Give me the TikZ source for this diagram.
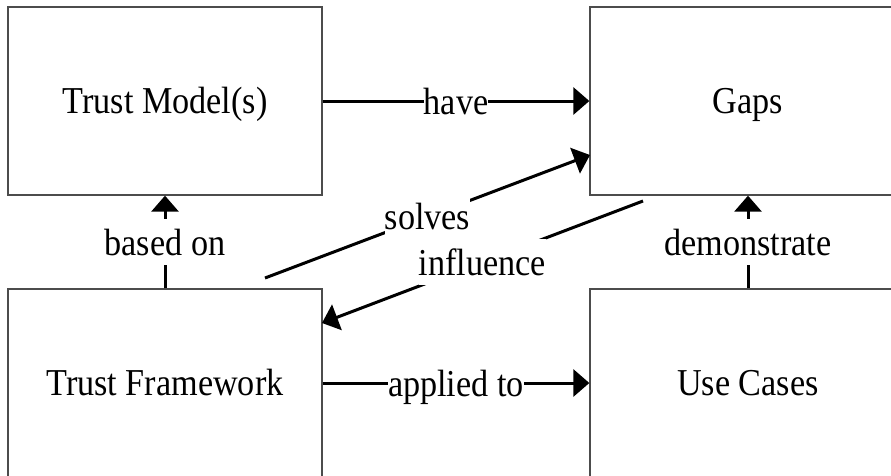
\documentclass[tikz,border=0pt]{standalone}
\usepackage{fontspec}
\setmainfont{Liberation Serif}
\newfontfamily\condserif[FakeStretch=0.9]{Liberation Serif}
\usetikzlibrary{arrows.meta}
\tikzset{
  box/.style={draw=black!70, line width=1.3pt, minimum width=314pt, minimum height=188pt, inner sep=0pt, text height=25pt, text depth=0pt, font=\condserif\fontsize{38}{44}\selectfont},
  arr/.style={line width=3pt, -{Triangle[length=16pt,width=27pt]}},
  lbl/.style={fill=white, inner sep=0pt, text height=36pt, text depth=10pt, font=\condserif\fontsize{38}{44}\selectfont}
}
\begin{document}
\begin{tikzpicture}[x=1pt,y=-1pt]
\useasboundingbox (0,0) rectangle (891,475);
\clip (0,0) rectangle (891,475);
\node[box] (tm) at (165,101) {Trust Model(s)};
\node[box, minimum width=316pt] (gaps) at (748,101) {Gaps};
\node[box] (tf) at (165,383) {Trust Framework};
\node[box, minimum width=316pt] (uc) at (748,383) {Use Cases};
\coordinate (sA) at (265,278);
\coordinate (sB) at (590,155);
\coordinate (iA) at (643,201);
\coordinate (iB) at (322,323);
\draw[arr] (tm.east) -- node[lbl]{have} (gaps.west);
\draw[arr] (tf.east) -- node[lbl]{applied to} (uc.west);
\draw[arr] (tf.north) -- node[lbl]{based on} (tm.south);
\draw[arr] (uc.north) -- node[lbl]{demonstrate} (gaps.south);
\draw[arr] (sA) -- node[lbl]{solves} (sB);
\draw[arr] (iA) -- node[lbl]{influence} (iB);
\end{tikzpicture}
\end{document}
